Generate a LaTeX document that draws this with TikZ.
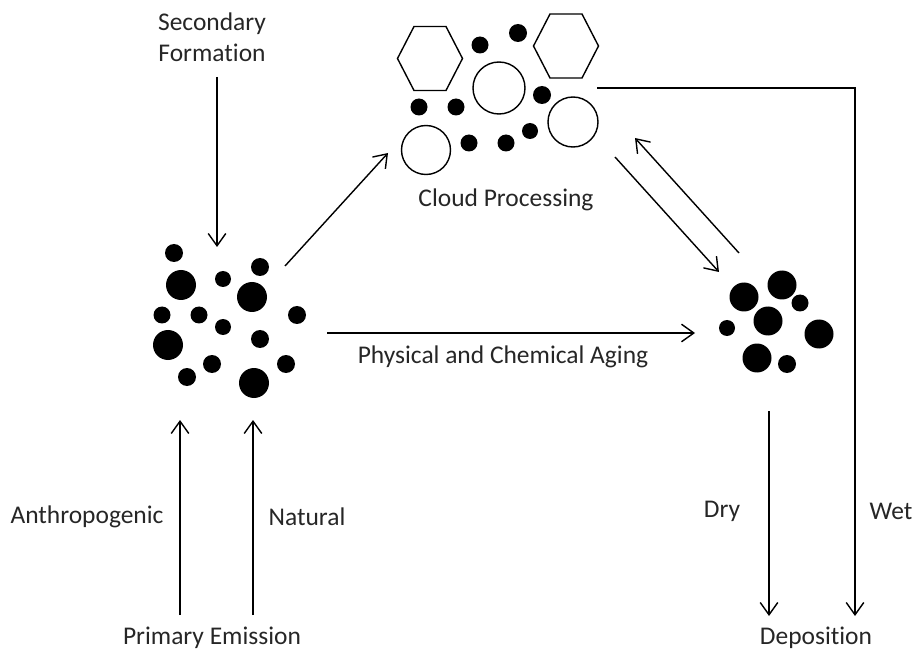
\documentclass[tikz,border=0pt]{standalone}
\usepackage{fontspec}
\setmainfont{Carlito}[Ligatures=NoCommon]
\usetikzlibrary{arrows.meta}

\tikzset{
  flow/.style={-{Straight Barb[length=7pt,width=10pt]}, line width=0.8pt},
  drop/.style={draw, line width=0.8pt},
  lbl/.style={font=\fontsize{14.5}{17.5}\selectfont, text=black!85, inner sep=0pt},
}

\begin{document}
\begin{tikzpicture}[x=0.02cm,y=-0.02cm]
    \useasboundingbox (0,0) rectangle (914,652);
    % fresh particles
    \foreach \x/\y/\r in {174/253/9, 181/285/15, 223/279/8, 260/267/9, 252/297/15, 162/315/8.5, 199/315/8.5,
        223/327/8, 297/315/9, 168/345/15, 260/339/9, 212/364/9, 187/377/9, 286/364/9, 254/383/15}
        \fill (\x,\y) circle[radius=\r];
    % aged particles
    \foreach \x/\y/\r in {744/297/14.5, 782/285/14.5, 800/303/8.5, 768/321/14.5, 727/328/8, 819/334/14.5,
        757/358/14.5, 787/364/9}
        \fill (\x,\y) circle[radius=\r];
    % cloud: ice, droplets and particles
    \foreach \cx/\cy in {430/58.5, 566/46}
        \draw[line width=0.8pt] (\cx-32.5,\cy) -- (\cx-16,\cy-32) -- (\cx+16,\cy-32) -- (\cx+32.5,\cy)
            -- (\cx+16,\cy+32) -- (\cx-16,\cy+32) -- cycle;
    \foreach \x/\y/\r in {499/88/26, 573/122/25, 426/150/24.5}
        \path[drop] (\x,\y) circle[radius=\r];
    \foreach \x/\y/\r in {480/45/8.5, 518/33/9, 542/95/9, 419/107/8.5, 456/107/8.5, 469/143/8.5, 506/143/8.5, 530/131/8}
        \fill (\x,\y) circle[radius=\r];

    % labels
    \node[lbl, align=center] (sec) at (212,37) {Secondary\\Formation};
    \node[lbl] (cloud) at (506,200) {Cloud Processing};
    \node[lbl] (aging) at (503,357) {Physical and Chemical Aging};
    \node[lbl] (anthro) at (87,517) {Anthropogenic};
    \node[lbl] (natural) at (307,517) {Natural};
    \node[lbl] (primary) at (212,638) {Primary Emission};
    \node[lbl] (dry) at (722,511) {Dry};
    \node[lbl] (wet) at (891,511) {Wet};
    \node[lbl] (depo) at (816,638) {Deposition};

    % arrow ends
    \coordinate (sec-s) at (217,77);   \coordinate (fresh-n) at (217,247);
    \coordinate (fresh-ne) at (285,266); \coordinate (cloud-sw) at (388,153);
    \coordinate (fresh-e) at (327,333);  \coordinate (aged-w) at (695,333);
    \coordinate (cloud-se) at (615,157); \coordinate (aged-nw) at (719,272);
    \coordinate (aged-n) at (739,253);   \coordinate (cloud-e) at (635,138);
    \coordinate (anthro-s) at (180,615); \coordinate (anthro-n) at (180,420);
    \coordinate (nat-s) at (253,615);    \coordinate (nat-n) at (253,420);
    \coordinate (aged-s) at (769,411);   \coordinate (dry-e) at (769,616);
    \coordinate (cloud-r) at (597,88);   \coordinate (wet-c) at (855,88);
    \coordinate (wet-e) at (855,616);

    \draw[flow] (sec-s) -- (fresh-n);
    \draw[flow] (fresh-ne) -- (cloud-sw);
    \draw[flow] (fresh-e) -- (aged-w);
    \draw[flow] (cloud-se) -- (aged-nw);
    \draw[flow] (aged-n) -- (cloud-e);
    \draw[flow] (anthro-s) -- (anthro-n);
    \draw[flow] (nat-s) -- (nat-n);
    \draw[flow] (aged-s) -- (dry-e);
    \draw[flow] (cloud-r) -- (wet-c) -- (wet-e);
\end{tikzpicture}
\end{document}
